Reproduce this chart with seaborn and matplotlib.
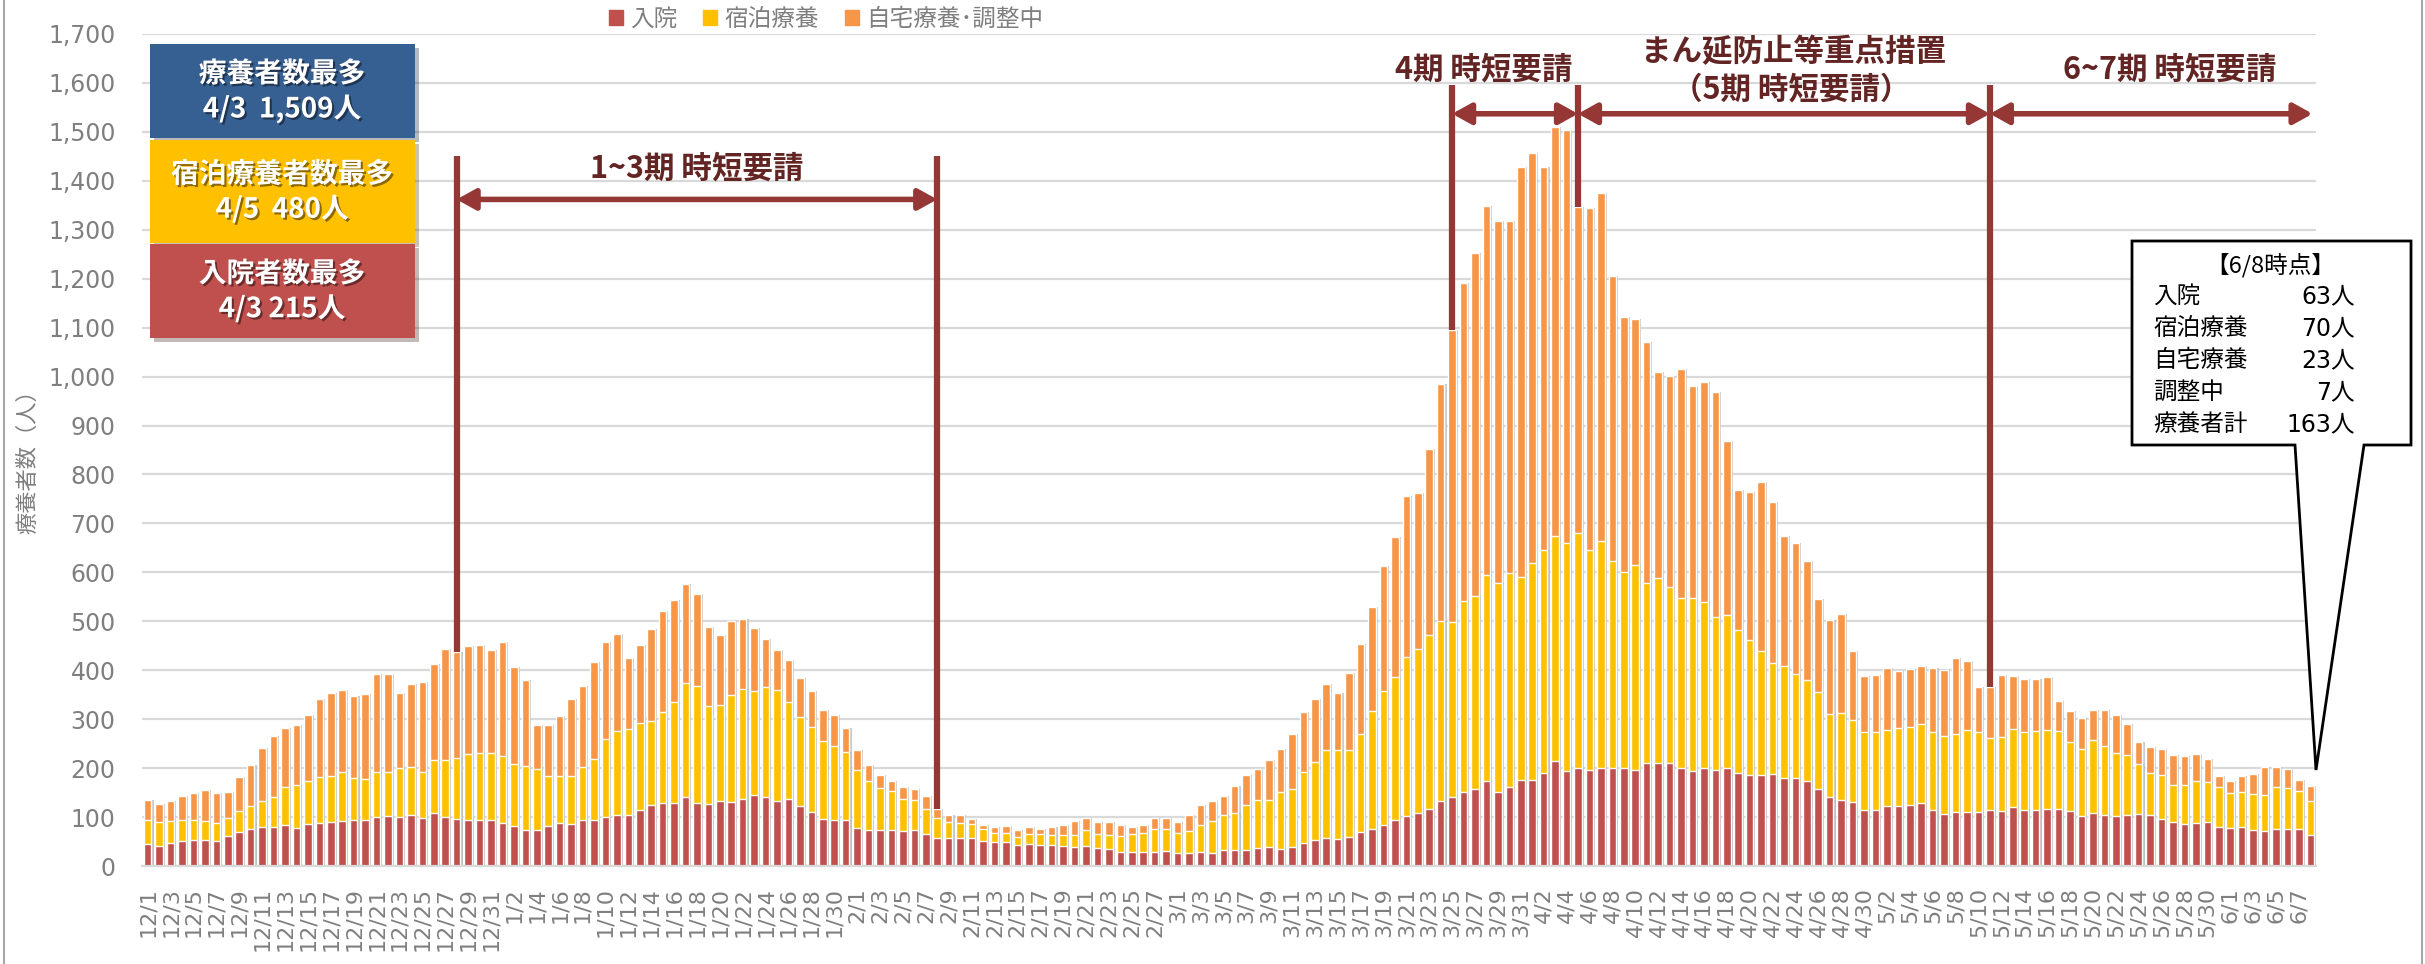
import numpy as np
import pandas as pd
import seaborn as sns
import matplotlib.pyplot as plt
import matplotlib.patheffects as pe
from matplotlib.patches import Rectangle, Polygon, Patch

# 入院 / 宿泊療養 / 自宅療養･調整中 (12/1 ~ 6/8, 日別)
hospital = [
    45, 41, 47, 51, 54, 53, 51, 62, 70, 76, 79, 79, 83, 78, 86, 88, 89, 92, 94, 94, 101, 102, 100, 104, 99, 109, 101, 96, 94, 93, 94,
    88, 82, 74, 73, 81, 88, 85, 94, 94, 101, 104, 104, 115, 124, 129, 129, 141, 128, 126, 133, 131, 136, 146, 141, 132, 136, 123, 110, 97, 95, 93,
    78, 74, 74, 74, 72, 74, 65, 57, 58, 58, 57, 51, 49, 49, 43, 45, 43, 43, 41, 39, 41, 37, 34, 29, 29, 29, 29, 31,
    27, 27, 29, 27, 32, 32, 32, 37, 39, 35, 39, 47, 53, 57, 55, 59, 69, 76, 83, 94, 103, 109, 117, 132, 142, 152, 158, 174, 152, 161, 175,
    175, 191, 215, 195, 200, 197, 201, 201, 200, 197, 210, 211, 210, 200, 195, 201, 197, 200, 191, 185, 185, 187, 180, 179, 174, 157, 142, 135, 130, 114,
    114, 122, 122, 125, 129, 115, 107, 110, 111, 110, 115, 113, 120, 115, 115, 117, 117, 113, 103, 108, 104, 102, 105, 107, 104, 97, 89, 86, 87, 89, 80,
    77, 79, 74, 72, 75, 75, 75, 63,
]
hotel = [
    49, 49, 45, 43, 39, 39, 36, 36, 42, 47, 53, 63, 79, 87, 87, 94, 95, 101, 86, 83, 92, 91, 101, 98, 94, 108, 116, 125, 135, 138, 136,
    137, 126, 130, 126, 102, 95, 98, 108, 124, 159, 172, 175, 178, 172, 185, 206, 233, 239, 200, 196, 219, 226, 212, 225, 228, 200, 181, 175, 159, 151, 139,
    119, 99, 86, 79, 64, 61, 52, 42, 32, 30, 28, 25, 19, 18, 17, 20, 22, 21, 22, 24, 33, 29, 29, 33, 36, 39, 47, 45,
    41, 45, 54, 65, 72, 77, 93, 98, 96, 117, 119, 146, 159, 181, 181, 179, 200, 241, 274, 293, 325, 334, 355, 369, 356, 389, 394, 420, 427, 438, 415,
    444, 454, 459, 465, 480, 448, 463, 423, 401, 419, 369, 378, 360, 347, 352, 339, 312, 313, 291, 277, 254, 228, 229, 213, 206, 198, 169, 178, 168, 159,
    159, 156, 160, 159, 161, 158, 159, 159, 166, 163, 147, 151, 160, 158, 160, 160, 158, 140, 136, 150, 142, 129, 121, 101, 86, 88, 77, 80, 87, 83, 82,
    72, 72, 73, 73, 86, 84, 79, 70,
]
home = [
    41, 36, 40, 49, 56, 63, 62, 53, 69, 83, 110, 124, 120, 123, 135, 160, 170, 166, 167, 174, 200, 200, 153, 169, 183, 195, 227, 217, 220, 221, 212,
    232, 199, 176, 89, 105, 123, 159, 165, 198, 198, 199, 147, 159, 188, 207, 208, 202, 188, 163, 142, 151, 143, 128, 97, 81, 85, 80, 73, 62, 62, 50,
    40, 33, 25, 21, 26, 23, 26, 18, 15, 16, 11, 8, 11, 14, 14, 14, 11, 15, 21, 29, 25, 23, 27, 22, 15, 15, 23, 23,
    22, 32, 41, 41, 39, 55, 60, 64, 82, 88, 112, 122, 130, 134, 117, 157, 185, 212, 257, 286, 327, 319, 381, 484, 598, 651, 701, 754, 738, 718, 839,
    838, 783, 835, 844, 666, 700, 711, 581, 520, 501, 491, 420, 431, 469, 433, 449, 460, 356, 287, 302, 345, 328, 265, 267, 243, 190, 192, 201, 141, 116,
    118, 126, 116, 118, 118, 131, 134, 157, 142, 93, 104, 126, 108, 109, 108, 110, 63, 64, 64, 60, 72, 77, 64, 45, 54, 55, 60, 58, 54, 47, 21,
    24, 32, 41, 58, 42, 39, 22, 30,
]
dates = [f'{d.month}/{d.day}' for d in pd.date_range('2020-12-01', '2021-06-08')]
series_names = ['入院', '宿泊療養', '自宅療養･調整中']

RED, YELLOW, ORANGE = '#C0504D', '#FFC000', '#F79646'
DARK, TXT, GRAY = '#953735', '#632523', '#7f7f7f'
W, H = 2425, 964


def fx(x):
    return x / W


def fy(y):
    return 1 - y / H


df = pd.DataFrame({'date': dates, 'hosp': hospital, 'hotel': hotel, 'home': home})
df['mid'] = df['hosp'] + df['hotel']
df['top'] = df['mid'] + df['home']

sns.set_style('white')
plt.rcParams['font.family'] = ['DejaVu Sans', 'Noto Sans CJK JP']
JP = ['Noto Sans CJK JP', 'DejaVu Sans']

fig = plt.figure(figsize=(W / 100, H / 100), dpi=100)
ax = fig.add_axes([fx(142), fy(866), (2316 - 142) / W, (866 - 34) / H])

# 積み上げ棒（上から重ねて描く）
for col, c in [('top', ORANGE), ('mid', YELLOW), ('hosp', RED)]:
    sns.barplot(data=df, x='date', y=col, color=c, width=0.66, saturation=1,
                errorbar=None, ax=ax, zorder=2)
for cont in ax.containers:
    for p in cont:
        p.set_path_effects([pe.SimplePatchShadow(offset=(1.5, 0), shadow_rgbFace='#bfbfbf', alpha=0.8), pe.Normal()])

ax.set_xlim(-0.5, len(dates) - 0.5)
ax.set_ylim(0, 1700)
ax.set_xlabel('')
ax.set_ylabel('')
yt = list(range(0, 1701, 100))
ax.set_yticks(yt)
ax.set_yticklabels([f'{v:,}' for v in yt])
ax.tick_params(axis='y', length=0, pad=19, labelsize=17, labelcolor=GRAY)
ax.yaxis.grid(True, color='#d9d9d9', lw=1.6)
ax.set_axisbelow(True)
ax.set_xticks(range(0, len(dates), 2))
ax.set_xticklabels(dates[::2], rotation=90)
ax.set_xticks(np.arange(-0.5, len(dates), 2), minor=True)
ax.tick_params(axis='x', which='major', length=0, pad=15, labelsize=16, labelcolor=GRAY)
ax.tick_params(axis='x', which='minor', length=6, width=1.5, color='#d9d9d9')
for s in ['top', 'right', 'left']:
    ax.spines[s].set_visible(False)
ax.spines['bottom'].set_color('#d9d9d9')
ax.spines['bottom'].set_linewidth(1.6)

fig.text(fx(28), fy(456), '療養者数（人）', rotation=90, ha='center', va='center',
         fontsize=16, color=GRAY)

handles = [Patch(color=c) for c in [RED, YELLOW, ORANGE]]
fig.legend(handles, series_names, loc='center', bbox_to_anchor=(fx(826), fy(19)), ncol=3,
           frameon=False, fontsize=17, handlelength=0.6, handleheight=0.6,
           handletextpad=0.3, columnspacing=1.1, labelcolor=GRAY)

# 時短要請の期間
def vline(d, y1):
    i = dates.index(d)
    ax.plot([i, i], [df['top'][i], y1], color=DARK, lw=4.5, solid_capstyle='butt', zorder=6)


def darrow(d0, x1, y):
    ax.annotate('', xy=(x1, y), xytext=(dates.index(d0), y),
                arrowprops=dict(arrowstyle='<|-|>,head_length=0.45,head_width=0.25', color=DARK,
                                lw=4, mutation_scale=25, shrinkA=0, shrinkB=0), zorder=6)


def label(x, y, s):
    ax.text(x, y, s, ha='center', va='center', fontsize=22, fontweight='bold', color=TXT,
            family=JP, zorder=7)


for d in ['12/28', '2/8']:
    vline(d, 1450)
for d in ['3/25', '4/5', '5/11']:
    vline(d, 1596)
darrow('12/28', dates.index('2/8'), 1362)
darrow('3/25', dates.index('4/5'), 1537)
darrow('4/5', dates.index('5/11'), 1537)
darrow('5/11', len(dates) - 0.8, 1537)
label(48, 1425, '1~3期 時短要請')
label(116.8, 1627, '4期 時短要請')
label(143.8, 1663, 'まん延防止等重点措置')
label(143.6, 1586, '（5期 時短要請）')
label(176.7, 1627, '6~7期 時短要請')

# 左上の最多ボックス
boxes = [
    ('#376092', 44, 138, '療養者数最多', '4/3  1,509人'),
    (YELLOW, 140, 243, '宿泊療養者数最多', '4/5  480人'),
    (RED, 244, 338, '入院者数最多', '4/3 215人'),
]
shadow_txt = [pe.withSimplePatchShadow(offset=(1.5, -1.5), shadow_rgbFace='black', alpha=0.45)]
for c, y0, y1, t1, t2 in boxes:
    r = Rectangle((fx(150), fy(y1)), (415 - 150) / W, (y1 - y0) / H, transform=fig.transFigure,
                  facecolor=c, edgecolor='none', zorder=8)
    r.set_path_effects([pe.SimplePatchShadow(offset=(3, -3), alpha=0.3), pe.Normal()])
    fig.add_artist(r)
    ym = (y0 + y1) / 2
    for yy, t in [(ym - 17, t1), (ym + 18, t2)]:
        fig.text(fx(282), fy(yy), t, ha='center', va='center', fontsize=20, fontweight='bold',
                 color='white', family=JP, path_effects=shadow_txt, zorder=9)

# 6/8時点の吹き出し
pts = [(2132, 241), (2411, 241), (2411, 445), (2364, 445), (2316, 770), (2295, 445), (2132, 445)]
fig.add_artist(Polygon([(fx(x), fy(y)) for x, y in pts], closed=True, transform=fig.transFigure,
                       facecolor='white', edgecolor='black', lw=2, zorder=8))
fig.text(fx(2270), fy(265), '【6/8時点】', ha='center', va='center', fontsize=17, color='black',
         family=JP, zorder=9)
rows = [('入院', '63人'), ('宿泊療養', '70人'), ('自宅療養', '23人'), ('調整中', '7人'), ('療養者計', '163人')]
for k, (a, b) in enumerate(rows):
    yy = 296 + k * 32.2
    fig.text(fx(2153), fy(yy), a, ha='left', va='center', fontsize=17, color='black', family=JP, zorder=9)
    fig.text(fx(2355), fy(yy), b, ha='right', va='center', fontsize=17, color='black', zorder=9)

# 外枠
for x in [4, 2422]:
    fig.add_artist(plt.Line2D([fx(x), fx(x)], [0, 1], color='#a6a6a6', lw=1.5))

fig.savefig('out.png', dpi=100, facecolor='white')
